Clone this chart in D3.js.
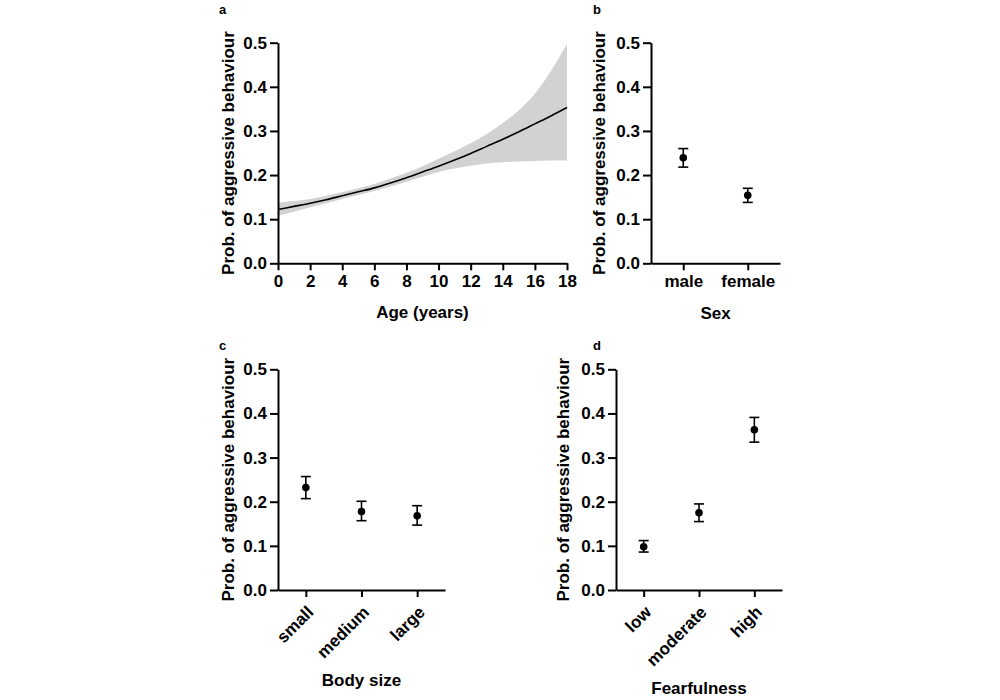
<!DOCTYPE html>
<html><head><meta charset="utf-8">
<script src="https://cdn.jsdelivr.net/npm/d3@7"></script>
<style>
body{margin:0;background:#fff;}
svg text{font-family:"Liberation Sans",Arial,sans-serif;font-weight:bold;fill:#000;}
</style></head>
<body><svg id="c" width="1000" height="700"></svg>
<script>
// Panel a: age effect
const ages      = [0, 1, 2, 3, 4, 5, 6, 7, 8, 9, 10, 11, 12, 13, 14, 15, 16, 17, 18];
const ageFit    = [0.122, 0.129, 0.136, 0.144, 0.153, 0.162, 0.171, 0.182, 0.194, 0.207, 0.220, 0.234, 0.249, 0.265, 0.281, 0.298, 0.316, 0.334, 0.353];
const ageUpper  = [0.138, 0.141, 0.146, 0.153, 0.161, 0.170, 0.180, 0.192, 0.205, 0.220, 0.237, 0.254, 0.272, 0.293, 0.318, 0.347, 0.385, 0.436, 0.497];
const ageLower  = [0.108, 0.117, 0.127, 0.136, 0.146, 0.155, 0.164, 0.174, 0.185, 0.196, 0.207, 0.215, 0.221, 0.226, 0.229, 0.231, 0.232, 0.233, 0.233];
const ageTicks  = [0, 2, 4, 6, 8, 10, 12, 14, 16, 18];
const probTicks = [0, 0.1, 0.2, 0.3, 0.4, 0.5];

// Panel b: sex
const sexCats  = ["male", "female"];
const sexEst   = [0.239, 0.154];
const sexLow   = [0.218, 0.138];
const sexHigh  = [0.260, 0.170];

// Panel c: body size
const sizeCats = ["small", "medium", "large"];
const sizeEst  = [0.232, 0.178, 0.168];
const sizeLow  = [0.207, 0.157, 0.147];
const sizeHigh = [0.257, 0.201, 0.191];

// Panel d: fearfulness
const fearCats = ["low", "moderate", "high"];
const fearEst  = [0.098, 0.175, 0.363];
const fearLow  = [0.086, 0.155, 0.335];
const fearHigh = [0.112, 0.195, 0.391];

const yTitle = "Prob. of aggressive behaviour";
const svg = d3.select("#c");
const FS_TICK = "17px", FS_TITLE = "17px";

function styleAxis(g){
  g.selectAll(".domain").attr("stroke","#000").attr("stroke-width",2);
  g.selectAll(".tick line").attr("stroke","#000").attr("stroke-width",2);
  g.selectAll(".tick text").style("font-size",FS_TICK).style("font-weight","bold").style("font-family","Liberation Sans, Arial, sans-serif");
}

function yAxis(x0, yScale){
  const g = svg.append("g").attr("transform",`translate(${x0},0)`)
    .call(d3.axisLeft(yScale).tickValues(probTicks).tickFormat(d3.format(".1f")).tickSize(8).tickPadding(3).tickSizeOuter(0));
  styleAxis(g);
  return g;
}

function yLabel(x, yScale){
  const [a,b] = yScale.range();
  svg.append("text").attr("transform",`translate(${x},${(a+b)/2}) rotate(-90)`)
    .attr("text-anchor","middle").attr("dominant-baseline","central")
    .style("font-size",FS_TITLE).text(yTitle);
}

function xLabel(text, xScale, y){
  const [a,b] = xScale.range();
  svg.append("text").attr("x",(a+b)/2).attr("y",y).attr("text-anchor","middle")
    .style("font-size",FS_TITLE).text(text);
}

function panelLetter(t,x,y){
  svg.append("text").attr("x",x).attr("y",y).style("font-size","13px").text(t);
}

// ---------- Panel a ----------
{
  const x = d3.scaleLinear().domain([0,18]).range([278,567]);
  const y = d3.scaleLinear().domain([0,0.5]).range([263.3,42.7]);
  const rows = ages.map((a,i)=>({a, f:ageFit[i], lo:ageLower[i], hi:ageUpper[i]}));
  svg.append("path").datum(rows)
    .attr("d", d3.area().x(d=>x(d.a)).y0(d=>y(d.lo)).y1(d=>y(d.hi)).curve(d3.curveMonotoneX))
    .attr("fill","#d2d2d2");
  svg.append("path").datum(rows)
    .attr("d", d3.line().x(d=>x(d.a)).y(d=>y(d.f)).curve(d3.curveMonotoneX))
    .attr("fill","none").attr("stroke","#000").attr("stroke-width",1.6);
  const gx = svg.append("g").attr("transform",`translate(0,${y(0)})`)
    .call(d3.axisBottom(x).tickValues(ageTicks).tickSize(7).tickPadding(5).tickSizeOuter(0));
  styleAxis(gx);
  yAxis(x(0), y);
  yLabel(228, y);
  xLabel("Age (years)", x, 318);
  panelLetter("a", 219, 14);
}

function catPanel(cats, est, lo, hi, x0, x1, yTop, yBot, rotate, title, titleY, letter, lx, ly, labX){
  const x = d3.scalePoint().domain(cats).range([x0,x1]).padding(0.5);
  const y = d3.scaleLinear().domain([0,0.5]).range([yBot,yTop]);
  const gx = svg.append("g").attr("transform",`translate(0,${y(0)})`)
    .call(d3.axisBottom(x).tickSize(7).tickPadding(5).tickSizeOuter(0));
  styleAxis(gx);
  if(rotate){
    gx.selectAll(".tick text").attr("text-anchor","end")
      .attr("x",0).attr("y",0).attr("dy","0.35em")
      .attr("transform","translate(4,19) rotate(-45)");
  }
  yAxis(x0, y);
  yLabel(labX, y);
  const rows = cats.map((c,i)=>({c, e:est[i], l:lo[i], h:hi[i]}));
  const g = svg.append("g");
  g.selectAll(".eb").data(rows).join("line")
    .attr("x1",d=>x(d.c)).attr("x2",d=>x(d.c)).attr("y1",d=>y(d.l)).attr("y2",d=>y(d.h))
    .attr("stroke","#000").attr("stroke-width",1.6);
  g.selectAll(".capT").data(rows).join("line")
    .attr("x1",d=>x(d.c)-5).attr("x2",d=>x(d.c)+5).attr("y1",d=>y(d.h)).attr("y2",d=>y(d.h))
    .attr("stroke","#000").attr("stroke-width",1.6);
  g.selectAll(".capB").data(rows).join("line")
    .attr("x1",d=>x(d.c)-5).attr("x2",d=>x(d.c)+5).attr("y1",d=>y(d.l)).attr("y2",d=>y(d.l))
    .attr("stroke","#000").attr("stroke-width",1.6);
  g.selectAll("circle").data(rows).join("circle")
    .attr("cx",d=>x(d.c)).attr("cy",d=>y(d.e)).attr("r",3.8).attr("fill","#000");
  xLabel(title, x, titleY);
  panelLetter(letter, lx, ly);
}

catPanel(sexCats, sexEst, sexLow, sexHigh, 651, 780, 42.7, 263.3, false, "Sex", 319, "b", 593, 14, 599);
catPanel(sizeCats, sizeEst, sizeLow, sizeHigh, 278, 445, 369.3, 590, true, "Body size", 686, "c", 219, 350, 228);
catPanel(fearCats, fearEst, fearLow, fearHigh, 616, 782, 369.3, 590, true, "Fearfulness", 694, "d", 593, 350, 563);
</script></body></html>
